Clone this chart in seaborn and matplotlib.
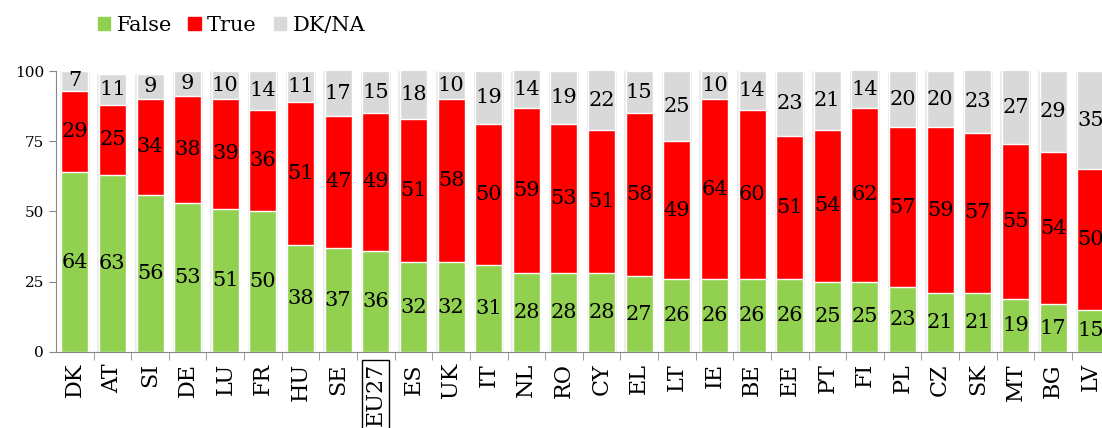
import numpy as np
import pandas as pd
import seaborn as sns
import matplotlib.pyplot as plt
from matplotlib.patches import Patch

countries = ["DK", "AT", "SI", "DE", "LU", "FR", "HU", "SE", "EU27", "ES", "UK", "IT", "NL", "RO",
             "CY", "EL", "LT", "IE", "BE", "EE", "PT", "FI", "PL", "CZ", "SK", "MT", "BG", "LV"]
false_vals = [64, 63, 56, 53, 51, 50, 38, 37, 36, 32, 32, 31, 28, 28,
              28, 27, 26, 26, 26, 26, 25, 25, 23, 21, 21, 19, 17, 15]
true_vals = [29, 25, 34, 38, 39, 36, 51, 47, 49, 51, 58, 50, 59, 53,
             51, 58, 49, 64, 60, 51, 54, 62, 57, 59, 57, 55, 54, 50]
dkna_vals = [7, 11, 9, 9, 10, 14, 11, 17, 15, 18, 10, 19, 14, 19,
             22, 15, 25, 10, 14, 23, 21, 14, 20, 20, 23, 27, 29, 35]

c_false = "#92D050"
c_true = "#FF0000"
c_dk = "#D9D9D9"

df = pd.DataFrame({"country": countries, "false": false_vals, "true": true_vals, "dkna": dkna_vals})
df["ft"] = df["false"] + df["true"]
df["total"] = df["ft"] + df["dkna"]

sns.set_style("white")
plt.rcParams["font.family"] = ["DejaVu Serif"]
plt.rcParams["text.color"] = "black"
plt.rcParams["xtick.color"] = "black"
plt.rcParams["ytick.color"] = "black"

fig = plt.figure(figsize=(11.02, 4.28), dpi=100)
ax = fig.add_axes([0.0508, 0.1776, 0.9492, 0.6565])

# soft shadow behind the bars
sns.barplot(data=df, x="country", y="total", order=countries, color="#EBEBEB", saturation=1,
            width=0.80, linewidth=0, errorbar=None, ax=ax)
layers = [("total", c_dk), ("ft", c_true), ("false", c_false)]
for col, c in layers:
    sns.barplot(data=df, x="country", y=col, order=countries, color=c, saturation=1,
                width=0.72, edgecolor="white", linewidth=1, errorbar=None, ax=ax)

for i, row in df.iterrows():
    top = min(row["total"], 100)
    ax.text(i, row["false"] / 2, str(row["false"]), ha="center", va="center", fontsize=15)
    ax.text(i, row["false"] + row["true"] / 2, str(row["true"]), ha="center", va="center", fontsize=15)
    ax.text(i, (row["ft"] + top) / 2, str(row["dkna"]), ha="center", va="center", fontsize=15)

ax.set_ylim(0, 100)
ax.set_xlim(-0.5, 27.3)
ax.set_yticks([0, 25, 50, 75, 100])
ax.set_yticklabels(["0", "25", "50", "75", "100"], fontsize=11)
ax.set_xlabel("")
ax.set_ylabel("")

ax.set_xticks(range(len(countries)))
ax.set_xticklabels(countries, rotation=90, fontsize=16)
ax.set_xticks(np.arange(0.5, len(countries) - 0.5, 1), minor=True)
ax.tick_params(axis="x", which="major", length=0, pad=8)
ax.tick_params(axis="x", which="minor", length=6, color="#888888", bottom=True)
ax.tick_params(axis="y", length=5, color="#888888", left=True)
for lab in ax.get_xticklabels():
    if lab.get_text() == "EU27":
        lab.set_bbox(dict(facecolor="none", edgecolor="black", linewidth=1, pad=2))

sns.despine(ax=ax, top=True, right=True)
ax.spines["left"].set_color("#888888")
ax.spines["bottom"].set_color("#888888")

handles = [Patch(color=c_false, label="False"), Patch(color=c_true, label="True"),
           Patch(color=c_dk, label="DK/NA")]
fig.legend(handles=handles, loc="center", bbox_to_anchor=(0.21, 0.94), ncol=3,
           frameon=False, fontsize=15, handlelength=0.6, handleheight=0.6,
           handletextpad=0.3, columnspacing=0.8)

fig.savefig("out.png", dpi=100)
